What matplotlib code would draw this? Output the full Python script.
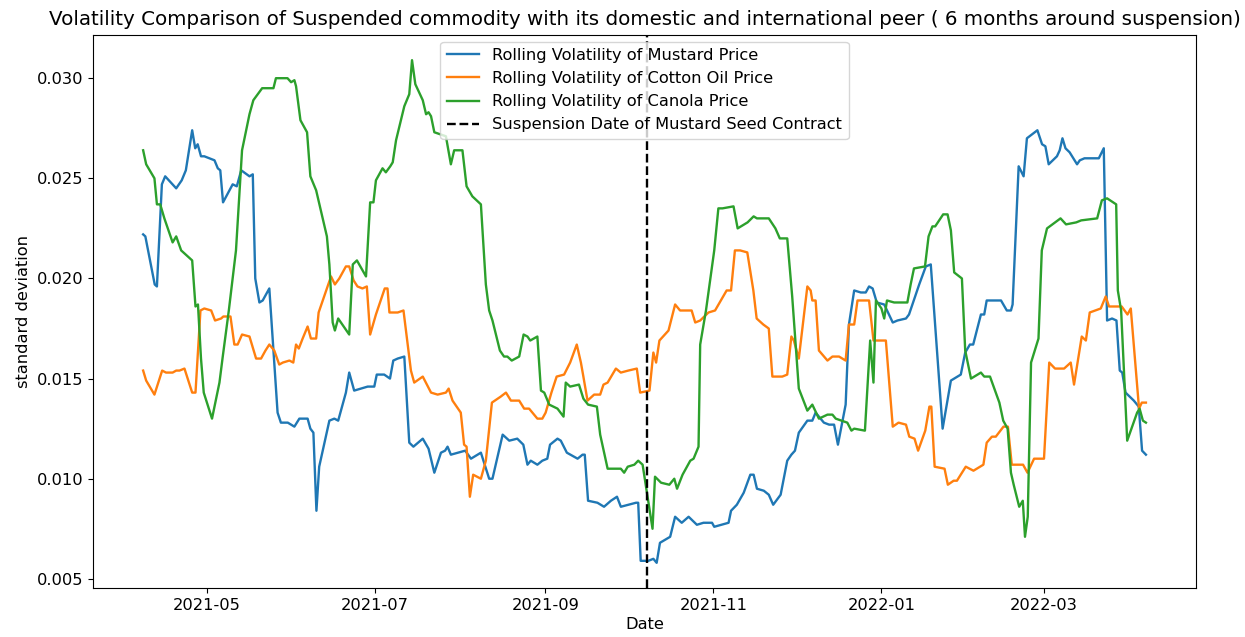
import matplotlib.pyplot as plt
import pandas as pd

# start of the rolling window data and suspension date
start_date = "2021-04-08"
suspension_date = "2021-10-08"

# days after start_date, rolling volatility values
mustard_days = [0, 0.8, 4.2, 5, 6.8, 8, 12, 14, 15.5, 17.8, 18.9, 19.8, 21, 22.2, 25.9, 27.1, 28, 29,
                32.5, 34, 35.6, 38.6, 39.8, 40.7, 42.2, 43.4, 45.8, 48.8, 50, 52.5, 54.9, 56.7, 59.7,
                60.7, 61.8, 62.9, 63.9, 67.6, 69.4, 70.8, 73.6, 74.8, 76.6, 81.5, 83.9, 84.8, 87.5,
                89.6, 90.8, 92.4, 94.8, 96.6, 98.1, 101.5, 103.6, 105.7, 108.1, 109.6, 110.5, 111.7,
                116.9, 119, 122.6, 125.6, 126.8, 130.5, 132.9, 135.8, 138, 139.5, 140.7, 143.1, 144.9,
                146.7, 147.7, 150.4, 151.6, 153.8, 157.7, 159.5, 160.3, 161.5, 164.9, 167.3, 169.8,
                172, 173.4, 176.1, 178.9, 179.7, 180.6, 183.4, 185.2, 186.4, 187.6, 191.3, 193.1,
                195.5, 198, 201, 203.4, 206.5, 207.3, 212.5, 213.4, 215.5, 218, 220.4, 221.6, 222.8,
                225.3, 227.1, 228.7, 231.4, 233.8, 235.3, 236.6, 238, 241.1, 242.9, 244.1, 247.1, 249,
                250.8, 252.2, 255, 256.2, 258.1, 260.5, 262.3, 263.5, 264.8, 266.3, 269, 272.1, 273.8,
                276.9, 278, 281.7, 284.1, 285.9, 290.2, 293.2, 296.8, 298.4, 300.1, 301.3, 304.1,
                305.3, 306.2, 308.4, 311.4, 313.5, 315, 315.6, 317.8, 319.6, 320.8, 324.6, 326.3,
                327.5, 328.7, 331.7, 332.7, 333.7, 334.8, 336.3, 339, 340, 341.7, 346.9, 348.7, 349.9,
                351.7, 353.3, 354.5, 355.4, 356.6, 359.6, 361.4, 362.6, 364]
mustard_vol = [0.0222, 0.0221, 0.0197, 0.0196, 0.0247, 0.0251, 0.0245, 0.0249, 0.0254, 0.0274, 0.0265,
               0.0267, 0.0261, 0.0261, 0.0259, 0.0255, 0.0254, 0.0238, 0.0247, 0.0246, 0.0254, 0.0251,
               0.0252, 0.0200, 0.0188, 0.0189, 0.0195, 0.0133, 0.0128, 0.0128, 0.0126, 0.0130, 0.0130,
               0.0125, 0.0123, 0.0084, 0.0106, 0.0129, 0.0130, 0.0129, 0.0143, 0.0153, 0.0144, 0.0146,
               0.0146, 0.0152, 0.0152, 0.0150, 0.0159, 0.0160, 0.0161, 0.0118, 0.0116, 0.0120, 0.0115,
               0.0103, 0.0113, 0.0114, 0.0116, 0.0112, 0.0114, 0.0110, 0.0113, 0.0100, 0.0100, 0.0122,
               0.0119, 0.0120, 0.0117, 0.0107, 0.0109, 0.0107, 0.0109, 0.0110, 0.0117, 0.0120, 0.0119,
               0.0113, 0.0110, 0.0112, 0.0112, 0.0089, 0.0088, 0.0086, 0.0089, 0.0091, 0.0086, 0.0087,
               0.0088, 0.0088, 0.0059, 0.0059, 0.0060, 0.0058, 0.0068, 0.0071, 0.0081, 0.0078, 0.0081,
               0.0077, 0.0078, 0.0078, 0.0076, 0.0078, 0.0084, 0.0087, 0.0093, 0.0102, 0.0102, 0.0095,
               0.0094, 0.0092, 0.0087, 0.0092, 0.0109, 0.0112, 0.0114, 0.0123, 0.0129, 0.0129, 0.0133,
               0.0128, 0.0127, 0.0127, 0.0117, 0.0137, 0.0177, 0.0194, 0.0193, 0.0193, 0.0196, 0.0195,
               0.0188, 0.0187, 0.0178, 0.0179, 0.0180, 0.0182, 0.0197, 0.0206, 0.0207, 0.0125, 0.0149,
               0.0152, 0.0163, 0.0167, 0.0167, 0.0182, 0.0182, 0.0189, 0.0189, 0.0189, 0.0184, 0.0184,
               0.0187, 0.0256, 0.0251, 0.0270, 0.0274, 0.0267, 0.0266, 0.0257, 0.0261, 0.0264, 0.0270,
               0.0265, 0.0263, 0.0257, 0.0259, 0.0260, 0.0260, 0.0265, 0.0179, 0.0180, 0.0179, 0.0154,
               0.0153, 0.0143, 0.0139, 0.0136, 0.0114, 0.0112]

cotton_days = [0, 1.1, 4.1, 6.9, 8.3, 10.7, 12, 13.2, 15, 17.8, 19, 20.8, 22.2, 24.7, 26.1, 28.3, 29.1,
               31.7, 33.1, 34.3, 35.9, 38.6, 41, 42.8, 44.4, 45.8, 47.6, 49.4, 50.7, 53.1, 54.5, 55.5,
               56.5, 57.9, 59.7, 60.9, 62.8, 63.7, 65.2, 68.2, 69.6, 71.2, 73.6, 74.8, 76.4, 77.8,
               79.6, 81.2, 82.4, 84.5, 87.7, 88.7, 89.4, 92.4, 94.5, 97.2, 98.4, 101.5, 104.5, 106.9,
               109.9, 110.9, 112.3, 115.3, 116.5, 117.4, 118.6, 119.8, 122.6, 124.4, 126.6, 129.8,
               131.7, 133.5, 136.5, 138.3, 140.1, 143.1, 144.9, 146.1, 148.2, 150.1, 152.8, 155, 157.4,
               158.9, 159.8, 161.3, 163.7, 165.9, 167.1, 168.6, 171.6, 173.4, 176.1, 179.2, 180.4,
               183.8, 185.2, 186.2, 187.4, 190.7, 193.1, 194.9, 199.1, 200.4, 202.2, 205.2, 207.6,
               211.8, 213.4, 214.8, 216.7, 219.3, 221.5, 222.7, 225.1, 227.1, 228.4, 232, 233.8, 235.3,
               236.2, 238, 241.1, 242.3, 242.9, 244.1, 245.3, 248.4, 250.2, 252.6, 255, 256.2, 258.1,
               259.3, 263.5, 265.1, 269.6, 272.1, 274.2, 276.9, 278.1, 280, 281.3, 283.9, 285.4, 286.1,
               287.3, 290.9, 292.1, 294.2, 295.4, 298.6, 301.4, 305, 306.2, 308.1, 309.5, 312.3, 313.9,
               315.3, 319.4, 321, 323.4, 327, 328.9, 331, 334.3, 336.7, 337.9, 340.7, 342.2, 343.6,
               347.6, 349.4, 350.6, 355.2, 357.3, 358.5, 361.5, 362.5, 364]
cotton_vol = [0.0154, 0.0149, 0.0142, 0.0154, 0.0153, 0.0153, 0.0154, 0.0154, 0.0155, 0.0143, 0.0143,
              0.0184, 0.0185, 0.0184, 0.0179, 0.0180, 0.0181, 0.0181, 0.0167, 0.0167, 0.0172, 0.0171,
              0.0160, 0.0160, 0.0164, 0.0167, 0.0164, 0.0157, 0.0158, 0.0159, 0.0158, 0.0167, 0.0165,
              0.0170, 0.0176, 0.0170, 0.0170, 0.0183, 0.0189, 0.0201, 0.0197, 0.0200, 0.0206, 0.0206,
              0.0199, 0.0196, 0.0195, 0.0196, 0.0172, 0.0182, 0.0195, 0.0195, 0.0183, 0.0183, 0.0184,
              0.0154, 0.0148, 0.0151, 0.0143, 0.0142, 0.0143, 0.0145, 0.0139, 0.0133, 0.0117, 0.0116,
              0.0091, 0.0102, 0.0100, 0.0109, 0.0138, 0.0141, 0.0143, 0.0139, 0.0139, 0.0135, 0.0135,
              0.0130, 0.0130, 0.0133, 0.0143, 0.0151, 0.0152, 0.0158, 0.0167, 0.0158, 0.0151, 0.0139,
              0.0142, 0.0142, 0.0147, 0.0148, 0.0155, 0.0153, 0.0154, 0.0155, 0.0143, 0.0144, 0.0163,
              0.0158, 0.0169, 0.0174, 0.0187, 0.0184, 0.0184, 0.0178, 0.0179, 0.0183, 0.0184, 0.0194,
              0.0194, 0.0214, 0.0214, 0.0213, 0.0194, 0.0180, 0.0177, 0.0175, 0.0151, 0.0151, 0.0152,
              0.0171, 0.0169, 0.0160, 0.0196, 0.0194, 0.0189, 0.0189, 0.0164, 0.0159, 0.0161, 0.0161,
              0.0159, 0.0177, 0.0177, 0.0189, 0.0189, 0.0169, 0.0169, 0.0126, 0.0128, 0.0127, 0.0121,
              0.0120, 0.0114, 0.0124, 0.0136, 0.0136, 0.0106, 0.0105, 0.0097, 0.0099, 0.0099, 0.0106,
              0.0104, 0.0107, 0.0118, 0.0121, 0.0121, 0.0126, 0.0126, 0.0107, 0.0107, 0.0103, 0.0110,
              0.0110, 0.0158, 0.0155, 0.0155, 0.0158, 0.0147, 0.0171, 0.0169, 0.0183, 0.0185, 0.0191,
              0.0186, 0.0186, 0.0182, 0.0185, 0.0135, 0.0138, 0.0138]

canola_days = [0, 1.1, 4.1, 5, 6.2, 7.7, 10.7, 12, 13.8, 17.8, 19, 19.9, 21, 22, 25, 27.7, 28.9, 31.1,
               33.7, 35.9, 38.6, 40, 43.2, 47.3, 48.2, 52.4, 53.7, 54.9, 55.5, 57.1, 59.5, 60.7, 62.8,
               66.7, 67.6, 68.8, 69.6, 70.8, 74.8, 76.1, 77.6, 80.9, 82.4, 83.6, 84.5, 86.9, 88.1, 89.7,
               90.6, 91.8, 94.8, 96.6, 97.6, 98.8, 101.5, 102.7, 103.6, 104.5, 105.7, 109.9, 111.7,
               112.9, 115.9, 117.4, 119.5, 122.6, 124.4, 125.6, 126.8, 129.5, 131, 132.2, 133.8, 136.5,
               138.1, 139.5, 140.5, 143.1, 144.4, 145.6, 147.4, 150.4, 152.6, 153.4, 155, 158.2, 159.8,
               161.5, 164.7, 165.9, 168.6, 173.4, 174.6, 175.9, 178.3, 179.7, 181.3, 184.9, 185.8, 188,
               191, 192.8, 193.8, 195.8, 198.6, 199.8, 201.6, 202.2, 204.3, 207.3, 208.8, 210.3, 214.3,
               215.8, 219.4, 221.6, 222.8, 225.5, 227.1, 229.5, 231.1, 233.8, 235.6, 238, 241.1, 242.9,
               245.3, 248.4, 250.2, 251.4, 255.6, 257.1, 258.1, 262, 263.9, 265.1, 266, 268, 269, 270,
               272.6, 277.4, 278.6, 279.8, 283.8, 285.1, 286.5, 287.5, 290.4, 292, 293.2, 294.4, 297.2,
               298.4, 300.5, 304.1, 305.3, 307.4, 310.8, 312.2, 313.8, 315, 316, 318, 319.3, 320.1,
               321.1, 322.3, 325, 326.2, 328.1, 333, 335, 338.7, 340.5, 346.3, 348, 349.9, 353.2,
               353.8, 355, 357.2, 360.8, 361.7, 362.9, 364]
canola_vol = [0.0264, 0.0257, 0.0250, 0.0237, 0.0237, 0.0230, 0.0218, 0.0221, 0.0214, 0.0209, 0.0186,
              0.0187, 0.0160, 0.0143, 0.0130, 0.0148, 0.0161, 0.0184, 0.0214, 0.0264, 0.0282, 0.0289,
              0.0295, 0.0295, 0.0300, 0.0300, 0.0298, 0.0299, 0.0296, 0.0279, 0.0273, 0.0251, 0.0244,
              0.0221, 0.0207, 0.0178, 0.0174, 0.0180, 0.0172, 0.0207, 0.0209, 0.0201, 0.0238, 0.0238,
              0.0249, 0.0255, 0.0253, 0.0256, 0.0258, 0.0269, 0.0286, 0.0292, 0.0309, 0.0297, 0.0289,
              0.0282, 0.0283, 0.0281, 0.0273, 0.0271, 0.0257, 0.0264, 0.0264, 0.0246, 0.0241, 0.0237,
              0.0197, 0.0184, 0.0179, 0.0164, 0.0161, 0.0161, 0.0159, 0.0161, 0.0172, 0.0171, 0.0169,
              0.0171, 0.0144, 0.0143, 0.0137, 0.0135, 0.0131, 0.0148, 0.0146, 0.0147, 0.0140, 0.0137,
              0.0136, 0.0122, 0.0105, 0.0105, 0.0103, 0.0106, 0.0107, 0.0109, 0.0107, 0.0075, 0.0101,
              0.0098, 0.0097, 0.0100, 0.0095, 0.0102, 0.0109, 0.0110, 0.0116, 0.0167, 0.0184, 0.0214,
              0.0235, 0.0235, 0.0236, 0.0225, 0.0228, 0.0231, 0.0230, 0.0230, 0.0230, 0.0225, 0.0220,
              0.0220, 0.0191, 0.0145, 0.0134, 0.0137, 0.0130, 0.0132, 0.0132, 0.0130, 0.0128, 0.0124,
              0.0125, 0.0124, 0.0169, 0.0148, 0.0189, 0.0185, 0.0180, 0.0189, 0.0188, 0.0188, 0.0197,
              0.0205, 0.0206, 0.0221, 0.0226, 0.0226, 0.0232, 0.0232, 0.0224, 0.0203, 0.0200, 0.0164,
              0.0150, 0.0153, 0.0151, 0.0151, 0.0138, 0.0129, 0.0125, 0.0103, 0.0097, 0.0086, 0.0089,
              0.0071, 0.0081, 0.0158, 0.0170, 0.0214, 0.0225, 0.0230, 0.0227, 0.0228, 0.0229, 0.0230,
              0.0239, 0.0240, 0.0237, 0.0194, 0.0184, 0.0119, 0.0133, 0.0135, 0.0129, 0.0128]


def to_dates(days):
    return pd.to_datetime(start_date) + pd.to_timedelta(days, unit="D")


plt.rcParams['font.size'] = 11.7
fig = plt.figure(figsize=(12.45, 6.37), dpi=100)
ax = fig.add_axes([0.0747, 0.077, 0.886, 0.868])

ax.plot(to_dates(mustard_days), mustard_vol, lw=1.7, label='Rolling Volatility of Mustard Price')
ax.plot(to_dates(cotton_days), cotton_vol, lw=1.7, label='Rolling Volatility of Cotton Oil Price')
ax.plot(to_dates(canola_days), canola_vol, lw=1.7, label='Rolling Volatility of Canola Price')
ax.axvline(pd.to_datetime(suspension_date), color='black', linestyle='--', lw=1.7,
           label='Suspension Date of Mustard Seed Contract')

ax.set_title('Volatility Comparison of Suspended commodity with its domestic and international peer '
             '( 6 months around suspension)', fontsize=14.3, pad=7)
ax.set_xlabel('Date', labelpad=3)
ax.set_ylabel('standard deviation')
ax.legend(loc='upper center', borderaxespad=0.4)

fig.savefig('out.png', dpi=100)
